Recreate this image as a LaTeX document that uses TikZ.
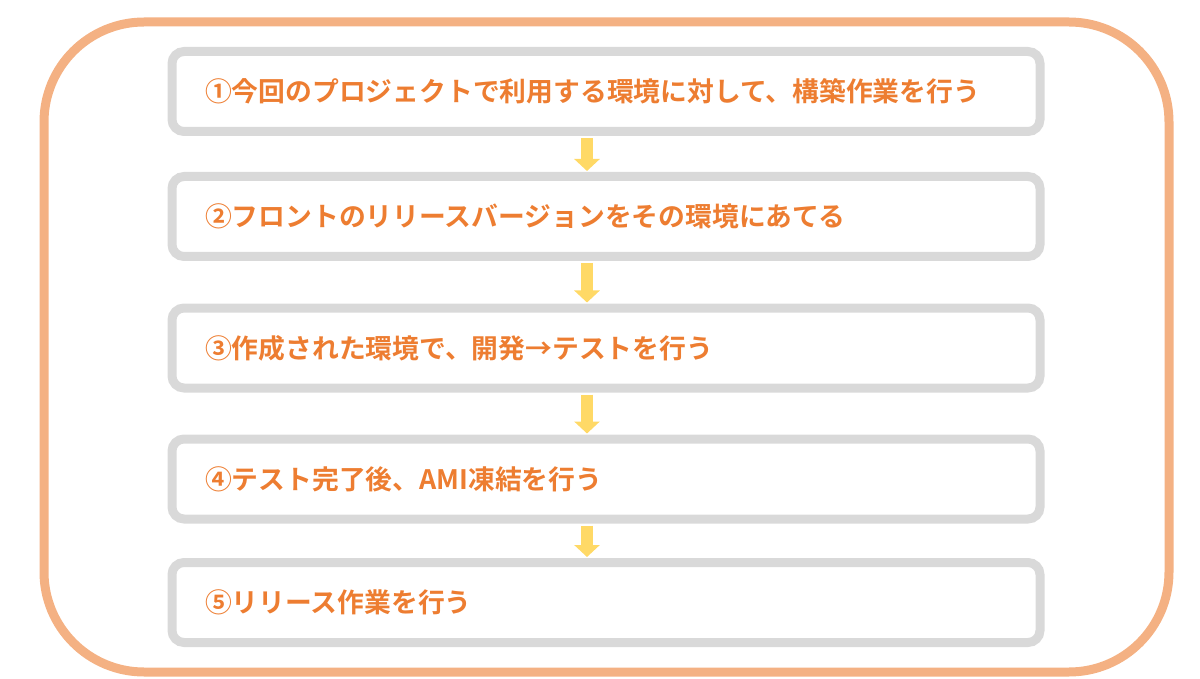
\documentclass[tikz,border=0pt]{standalone}
\usepackage{fontspec}
\newfontfamily\jpfont{Noto Sans CJK JP Bold}
\usetikzlibrary{arrows.meta}
\definecolor{frameorange}{HTML}{F4B183}
\definecolor{textorange}{HTML}{ED7D31}
\definecolor{boxgray}{HTML}{D9D9D9}
\definecolor{arrowyellow}{HTML}{FFD966}
\begin{document}
\begin{tikzpicture}[x=1pt, y=-1pt]
        % styles
        \tikzstyle{frame}=[draw=frameorange, line width=9pt, rounded corners=100pt]
        \tikzstyle{stepbox}=[rectangle, draw=boxgray, line width=9pt, rounded corners=12pt,
            minimum width=868pt, minimum height=80pt, text width=802pt, inner xsep=33pt,
            align=left, text=textorange, font=\jpfont\fontsize{26.8}{30}\selectfont]
        \tikzstyle{flow}=[draw=arrowyellow, line width=12pt,
            -{Triangle[width=25pt, length=12pt]}, arrowyellow, shorten <=2pt, shorten >=1pt]

        \useasboundingbox (0,0) rectangle (1200,679);

        % outer frame
        \draw[frame] (44,22) rectangle (1169,672);

        % steps
        \node[stepbox] (plan) at (606,91.5) {①今回のプロジェクトで利用する環境に対して、構築作業を行う};
        \node[stepbox] (front) at (606,216.5) {②フロントのリリースバージョンをその環境にあてる};
        \node[stepbox] (dev) at (606,348) {③作成された環境で、開発→テストを行う};
        \node[stepbox] (ami) at (606,479) {④テスト完了後、AMI凍結を行う};
        \node[stepbox] (release) at (606,602.5) {⑤リリース作業を行う};

        % arrows
        \draw[flow] (plan.south -| 587,0) -- (front.north -| 587,0);
        \draw[flow] (front.south -| 587,0) -- (dev.north -| 587,0);
        \draw[flow] (dev.south -| 587,0) -- (ami.north -| 587,0);
        \draw[flow] (ami.south -| 587,0) -- (release.north -| 587,0);
    \end{tikzpicture}
\end{document}
